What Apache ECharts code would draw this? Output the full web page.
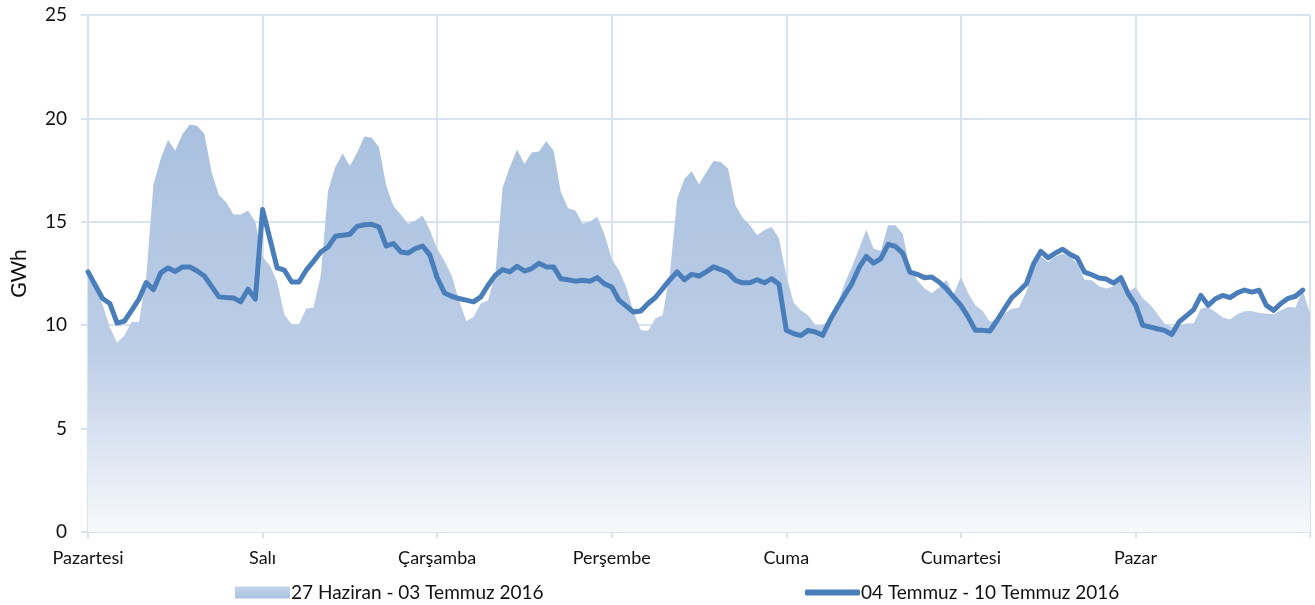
<!DOCTYPE html>
<html>
<head>
<meta charset="utf-8">
<script src="https://cdn.jsdelivr.net/npm/echarts@6/dist/echarts.min.js"></script>
<style>
  html, body { margin: 0; padding: 0; background: #fff; }
  #chart { width: 1315px; height: 605px; }
</style>
</head>
<body>
<div id="chart"></div>
<script>
// gün adları (x ekseni)
const days = ['Pazartesi', 'Salı', 'Çarşamba', 'Perşembe', 'Cuma', 'Cumartesi', 'Pazar'];
const yTicks = [0, 5, 10, 15, 20, 25];
const seriesNames = ['27 Haziran - 03 Temmuz 2016', '04 Temmuz - 10 Temmuz 2016'];

// saatlik kategoriler: 7 gün x 24 saat + kapanış noktası
const hours = [];
for (let d = 0; d <= days.length; d++) {
  for (let h = 0; h < 24; h++) {
    if (d === days.length && h > 0) break;
    hours.push((days[d] || days[0]) + ' ' + String(h).padStart(2, '0') + ':00');
  }
}

// 27 Haziran - 03 Temmuz 2016 (alan)
const prevWeek = [
  12.3, 11.8, 11.0, 9.9, 9.15, 9.5, 10.15, 10.15, 12.3, 16.8, 18.05, 18.95, 18.45, 19.25, 19.7, 19.65, 19.25, 17.4, 16.3, 15.95, 15.35, 15.35, 15.55, 15.0,
  13.3, 12.9, 12.1, 10.5, 10.05, 10.05, 10.8, 10.85, 12.4, 16.5, 17.65, 18.3, 17.7, 18.35, 19.13, 19.07, 18.6, 16.75, 15.75, 15.35, 14.9, 15.05, 15.3, 14.6,
  13.7, 13.1, 12.4, 11.2, 10.2, 10.4, 11.05, 11.2, 12.5, 16.65, 17.65, 18.5, 17.8, 18.35, 18.4, 18.9, 18.45, 16.45, 15.65, 15.55, 14.9, 15.0, 15.25, 14.4,
  13.2, 12.66, 11.85, 10.64, 9.76, 9.73, 10.32, 10.48, 12.5, 16.12, 17.08, 17.45, 16.8, 17.4, 17.94, 17.89, 17.57, 15.8, 15.2, 14.83, 14.35, 14.6, 14.75, 14.19,
  12.4, 11.1, 10.72, 10.48, 10.0, 10.0, 10.3, 10.96, 12.0, 12.8, 13.7, 14.62, 13.7, 13.6, 14.83, 14.83, 14.42, 12.73, 12.17, 11.77, 11.56, 11.81, 12.2, 11.5,
  12.33, 11.56, 10.96, 10.69, 10.16, 10.32, 10.56, 10.8, 10.85, 11.6, 12.81, 13.33, 13.05, 13.33, 13.46, 13.33, 12.97, 12.2, 12.17, 11.88, 11.77, 11.88, 12.17, 11.6,
  11.85, 11.3, 11.0, 10.55, 10.08, 9.91, 10.0, 10.08, 10.1, 10.8, 10.88, 10.64, 10.37, 10.27, 10.53, 10.67, 10.69, 10.59, 10.56, 10.53, 10.72, 10.88, 10.85, 11.69,
  10.56
];

// 04 Temmuz - 10 Temmuz 2016 (çizgi)
const thisWeek = [
  12.58, 11.93, 11.29, 11.05, 10.1, 10.2, 10.72, 11.26, 12.06, 11.72, 12.53, 12.77, 12.6, 12.82, 12.82, 12.62, 12.38, 11.88, 11.37, 11.34, 11.32, 11.13, 11.74, 11.26,
  15.59, 14.19, 12.77, 12.66, 12.09, 12.09, 12.66, 13.09, 13.54, 13.78, 14.3, 14.35, 14.4, 14.78, 14.86, 14.88, 14.75, 13.83, 13.95, 13.54, 13.49, 13.7, 13.83, 13.4,
  12.3, 11.56, 11.4, 11.29, 11.21, 11.13, 11.37, 11.93, 12.42, 12.69, 12.58, 12.85, 12.62, 12.74, 13.0, 12.82, 12.82, 12.25, 12.2, 12.13, 12.17, 12.13, 12.3, 12.0,
  11.85, 11.21, 10.92, 10.64, 10.69, 11.05, 11.34, 11.77, 12.2, 12.58, 12.2, 12.46, 12.38, 12.58, 12.82, 12.69, 12.54, 12.17, 12.05, 12.05, 12.2, 12.05, 12.25, 11.98,
  9.76, 9.6, 9.5, 9.75, 9.67, 9.51, 10.24, 10.85, 11.44, 12.0, 12.78, 13.33, 13.0, 13.22, 13.91, 13.81, 13.49, 12.57, 12.46, 12.3, 12.33, 12.09, 11.77, 11.36,
  10.96, 10.4, 9.75, 9.75, 9.72, 10.24, 10.8, 11.33, 11.65, 12.0, 12.97, 13.57, 13.26, 13.49, 13.67, 13.43, 13.25, 12.57, 12.44, 12.28, 12.23, 12.04, 12.3, 11.53,
  11.0, 10.0, 9.92, 9.83, 9.75, 9.55, 10.16, 10.45, 10.75, 11.44, 10.96, 11.28, 11.44, 11.33, 11.56, 11.7, 11.6, 11.69, 10.96, 10.72, 11.05, 11.3, 11.4, 11.7
];

const gridColor = '#d9e3f0';
const lineColor = '#4a7ebb';
const textColor = '#111';
const font = 'Lato, "Open Sans", sans-serif';

const areaFill = new echarts.graphic.LinearGradient(0, 0, 0, 1, [
  { offset: 0, color: '#a9c1df' },
  { offset: 0.55, color: '#bccde6' },
  { offset: 1, color: '#f7f9fc' }
]);
const legendFill = new echarts.graphic.LinearGradient(0, 0, 0, 1, [
  { offset: 0, color: '#c4d4ea' },
  { offset: 1, color: '#a9c1df' }
]);

const dayTick = (idx) => idx % 24 === 0;

let myChart = echarts.init(document.getElementById('chart'), null, { renderer: 'canvas' });
const option = {
  animation: false,
  backgroundColor: '#fff',
  textStyle: { fontFamily: font, color: textColor },
  grid: { left: 88, right: 5, top: 15, bottom: 73, containLabel: false },
  legend: [
    {
      left: 235, top: 583, padding: 0,
      itemWidth: 55, itemHeight: 12, itemGap: 0,
      textStyle: { fontSize: 19, color: textColor, fontFamily: font, padding: [0, 0, 0, -4] },
      data: [{ name: seriesNames[0], icon: 'rect', itemStyle: { color: legendFill, borderWidth: 0 } }]
    },
    {
      left: 805, top: 583, padding: 0,
      itemWidth: 55, itemHeight: 6, itemGap: 0,
      textStyle: { fontSize: 19, color: textColor, fontFamily: font, padding: [0, 0, 0, -4] },
      data: [{ name: seriesNames[1], icon: 'roundRect', itemStyle: { color: lineColor, borderWidth: 0 } }]
    }
  ],
  xAxis: {
    type: 'category',
    data: hours,
    boundaryGap: false,
    axisLine: { show: true, lineStyle: { color: gridColor, width: 2 } },
    axisTick: { show: true, interval: dayTick, length: 6, lineStyle: { color: gridColor, width: 2 } },
    axisLabel: {
      interval: dayTick,
      margin: 17,
      fontSize: 18,
      color: textColor,
      fontFamily: font,
      formatter: (val, idx) => (idx < 168 ? days[Math.floor(idx / 24)] : '')
    },
    splitLine: { show: true, interval: dayTick, lineStyle: { color: gridColor, width: 2 } }
  },
  yAxis: {
    type: 'value',
    min: yTicks[0],
    max: yTicks[yTicks.length - 1],
    interval: 5,
    name: 'GWh',
    nameLocation: 'middle',
    nameRotate: 90,
    nameGap: 58,
    nameTextStyle: { fontSize: 21, color: textColor, fontFamily: font },
    axisLine: { show: true, lineStyle: { color: gridColor, width: 2 } },
    axisTick: { show: true, length: 7, lineStyle: { color: gridColor, width: 2 } },
    axisLabel: { fontSize: 19, color: textColor, margin: 21, fontFamily: font },
    splitLine: { show: true, lineStyle: { color: gridColor, width: 2 } }
  },
  series: [
    {
      name: seriesNames[0],
      type: 'line',
      data: prevWeek,
      showSymbol: false,
      symbol: 'none',
      lineStyle: { width: 0 },
      itemStyle: { color: '#a9c1df' },
      areaStyle: { color: areaFill, opacity: 1 },
      z: 1
    },
    {
      name: seriesNames[1],
      type: 'line',
      data: thisWeek,
      showSymbol: false,
      symbol: 'none',
      lineStyle: { width: 5, color: lineColor, cap: 'round', join: 'round' },
      itemStyle: { color: lineColor },
      z: 3
    }
  ]
};
myChart.setOption(option);

window.addEventListener('resize', () => {
  myChart.resize();
});
</script>
</body>
</html>
